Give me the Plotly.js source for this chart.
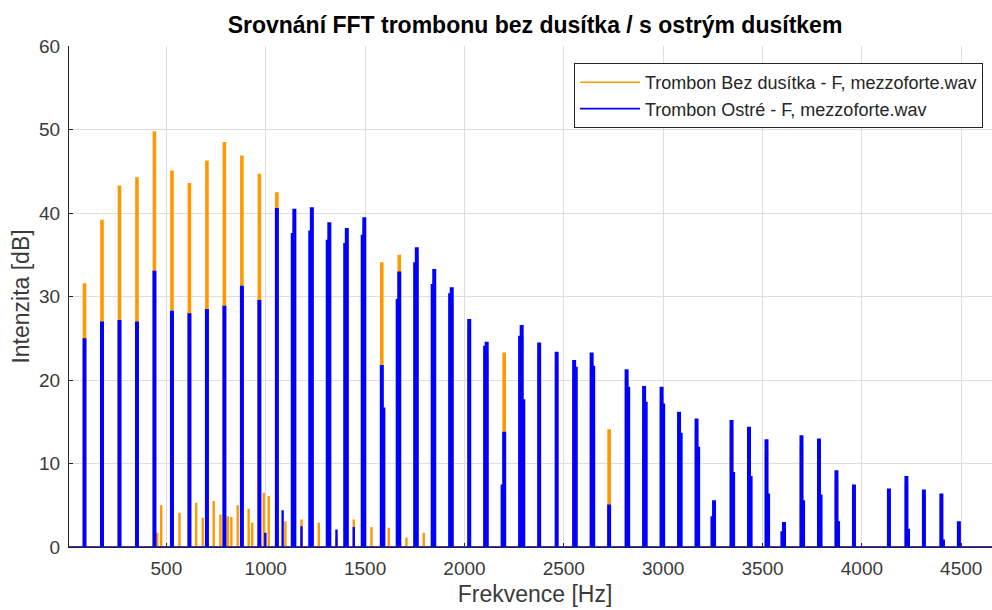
<!DOCTYPE html>
<html><head><meta charset="utf-8">
<script src="https://cdn.plot.ly/plotly-3.0.1.min.js"></script>
<style>html,body{margin:0;padding:0;overflow:hidden;background:#fff}#chart{width:1010px;height:610px}</style>
</head><body><div id="chart"></div>
<script>
// Harmonic frequencies of the F tone (Hz)
const harmonicFreq = [88,176,264,352,440,528,616,704,792,880,968,1056,1144,1232,1320,1408,1496,1584,1672,1760,
  1848,1936,2024,2112,2200,2288,2376,2464,2552,2640,2728,2816,2904,2992,3080,3168,3256,3344,3432,3520,
  3608,3696,3784,3872,3960,4048,4136,4224,4312,4400,4488];
// Trombon Bez dusítka – peak level per harmonic (dB)
const bezLevel = [31.5,39.1,43.2,44.2,49.7,45.0,43.5,46.2,48.4,46.8,44.6,42.4,39.0,39.5,37.0,36.5,38.0,34.0,34.9,34.5,
  32.0,29.5,26.0,23.0,23.2,25.0,23.0,22.0,21.0,22.0,14.0,20.0,18.0,18.0,15.0,14.0,4.0,14.0,13.0,11.5,
  2.0,12.0,11.5,8.0,6.5,null,6.0,7.5,6.0,5.5,2.5];
// Trombon Ostré – peak level per harmonic (dB)
const ostreLevel = [24.9,26.9,27.1,26.9,33.0,28.2,27.9,28.4,28.8,31.2,29.5,40.5,40.4,40.6,38.8,38.1,39.4,21.7,32.9,35.8,
  33.2,31.0,27.2,24.5,13.7,26.5,24.4,23.3,22.3,23.2,5.0,21.2,19.2,19.1,16.1,15.3,5.5,15.1,14.3,12.8,
  2.9,13.3,12.9,9.1,7.4,null,6.9,8.4,6.8,6.3,3.0];
// Trombon Ostré – lower shoulder left of the peak (dB)
const ostreLeft = [null,null,null,null,null,null,null,null,null,null,null,null,37.5,37.8,36.7,36.3,37.3,null,29.6,34.0,
  31.4,30.3,null,24.0,7.4,25.2,null,null,null,null,null,null,null,null,null,null,3.6,null,null,null,
  1.8,null,null,null,null,null,null,null,null,null,null];
// Trombon Ostré – lower shoulder right of the peak (dB)
const ostreRight = [null,null,null,null,null,null,null,null,null,null,null,null,null,null,null,null,null,16.6,null,null,
  null,null,null,null,null,17.6,null,null,21.5,21.6,null,19.1,17.3,17.1,13.6,11.9,null,8.9,8.4,6.3,
  null,5.5,6.2,3.0,null,null,null,2.1,null,0.8,null];
// Small non-harmonic components
const bezMinorFreq = [454,474,566,650,683,738,772,809,827,859,914,932,990,1015,1099,1180,1267,1356,1443,1532,1619,1708,1795];
const bezMinorLevel = [1.6,4.9,4.0,5.2,3.4,5.4,3.8,3.6,3.5,4.9,4.5,2.8,6.4,6.0,3.0,3.2,2.8,1.0,3.2,2.3,2.2,1.0,1.6];
const ostreMinorFreq = [998,1085,1180,1356,1443];
const ostreMinorLevel = [1.6,4.3,2.4,2.0,2.3];

const xTicks = [500,1000,1500,2000,2500,3000,3500,4000,4500];
const yTicks = [0,10,20,30,40,50,60];
const xRange = [10,4700];

function buildSpectrum(freq, level, left, right, mFreq, mLevel, halfWidth) {
  const peaks = [];
  freq.forEach((f,i)=>{ if(level[i]!=null) peaks.push({f, h:level[i], l:left?left[i]:null, r:right?right[i]:null, w:halfWidth}); });
  mFreq.forEach((f,i)=>peaks.push({f, h:mLevel[i], l:null, r:null, w:2}));
  peaks.sort((a,b)=>a.f-b.f);
  const xs=[xRange[0]], ys=[0];
  const ws = 14;
  for (const p of peaks) {
    if (p.l!=null) { xs.push(p.f-ws,p.f-ws,p.f-p.w,p.f-p.w); ys.push(0,p.l,p.l,p.h); }
    else { xs.push(p.f-p.w,p.f-p.w); ys.push(0,p.h); }
    if (p.r!=null) { xs.push(p.f+p.w,p.f+p.w,p.f+ws,p.f+ws); ys.push(p.h,p.r,p.r,0); }
    else { xs.push(p.f+p.w,p.f+p.w); ys.push(p.h,0); }
  }
  xs.push(xRange[1]); ys.push(0);
  return {x:xs, y:ys};
}

const bez = buildSpectrum(harmonicFreq, bezLevel, null, null, bezMinorFreq, bezMinorLevel, 5);
const ostre = buildSpectrum(harmonicFreq, ostreLevel, ostreLeft, ostreRight, ostreMinorFreq, ostreMinorLevel, 6);

const ORANGE = '#FF9900', BLUE = '#0000FF';
const FONT = 'Liberation Sans, Arial, Helvetica, sans-serif';
const traces = [
  {type:'scatter', mode:'lines', x:bez.x, y:bez.y, fill:'tozeroy', fillcolor:ORANGE,
   line:{color:ORANGE, width:0}, showlegend:false, cliponaxis:false, hoverinfo:'skip'},
  {type:'scatter', mode:'lines', name:'Trombon Bez dusítka - F, mezzoforte.wav', x:bez.x, y:bez.y,
   line:{color:ORANGE, width:1.6}, cliponaxis:false, hoverinfo:'skip'},
  {type:'scatter', mode:'lines', x:ostre.x, y:ostre.y, fill:'tozeroy', fillcolor:BLUE,
   line:{color:BLUE, width:0}, showlegend:false, cliponaxis:false, hoverinfo:'skip'},
  {type:'scatter', mode:'lines', name:'Trombon Ostré - F, mezzoforte.wav', x:ostre.x, y:ostre.y,
   line:{color:BLUE, width:1.6}, cliponaxis:false, hoverinfo:'skip'}
];

const axisCommon = {
  showgrid:true, gridcolor:'#dedede', gridwidth:1, zeroline:false,
  showline:true, linecolor:'#262626', linewidth:1, mirror:false,
  ticks:'inside', ticklen:4, tickcolor:'#262626', tickwidth:1,
  tickfont:{family:FONT, size:19, color:'#3a3a3a'}, layer:'below traces'
};

const layout = {
  width:1010, height:610,
  margin:{l:69, r:9, t:46, b:63},
  paper_bgcolor:'#ffffff', plot_bgcolor:'#ffffff',
  title:{text:'Srovnání FFT trombonu bez dusítka / s ostrým dusítkem',
    font:{family:FONT, size:23, color:'#000000', weight:'bold'},
    x:0.5, xref:'paper', xanchor:'center', y:1-25/610, yref:'container', yanchor:'middle'},
  xaxis:Object.assign({}, axisCommon, {range:xRange, tickvals:xTicks, ticktext:xTicks.map(String),
    ticklabelstandoff:4,
    title:{text:'Frekvence [Hz]', font:{family:FONT, size:23, color:'#3a3a3a'}, standoff:8}}),
  yaxis:Object.assign({}, axisCommon, {range:[0,60], tickvals:yTicks, ticktext:yTicks.map(String),
    ticklabelstandoff:4,
    title:{text:'Intenzita [dB]', font:{family:FONT, size:23, color:'#3a3a3a'}, standoff:3}}),
  showlegend:true,
  legend:{x:(983-69)/932, xanchor:'right', y:(547-63)/501, yanchor:'top',
    bgcolor:'#ffffff', bordercolor:'#262626', borderwidth:1,
    font:{family:FONT, size:18, color:'#262626'}, itemwidth:60, tracegroupgap:0}
};

Plotly.newPlot('chart', traces, layout, {staticPlot:true, displayModeBar:false, responsive:false});
</script>
</body></html>
